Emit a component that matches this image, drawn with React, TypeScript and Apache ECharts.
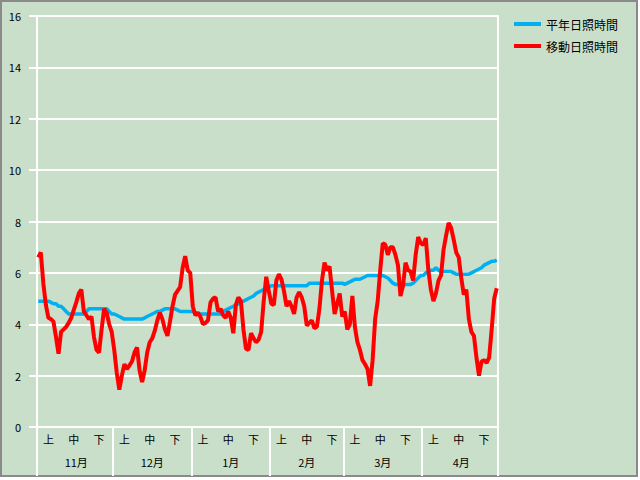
import React, { useEffect, useRef } from 'react';
import * as echarts from 'echarts';

// Month groups (Nov – Apr, leap-year February)
const months = ['11月', '12月', '1月', '2月', '3月', '4月'];
const monthDays = [30, 31, 31, 29, 31, 30];
// Ten-day periods and the day-of-month at which their label sits
const periods = ['上', '中', '下'];
const periodLabelDay = [5, 15, 25];

const seriesNames = ['平年日照時間', '移動日照時間'];

// 平年日照時間 (normal daily sunshine hours), one value per day
const normalNov = [4.9, 4.9, 4.9, 4.9, 4.9, 4.85, 4.8, 4.8, 4.7, 4.7, 4.6, 4.5, 4.4, 4.4, 4.4, 4.4, 4.4, 4.4, 4.4, 4.5, 4.6, 4.6, 4.6, 4.6, 4.6, 4.6, 4.6, 4.6, 4.5, 4.4];
const normalDec = [4.4, 4.35, 4.3, 4.25, 4.2, 4.2, 4.2, 4.2, 4.2, 4.2, 4.2, 4.2, 4.25, 4.3, 4.35, 4.4, 4.45, 4.5, 4.5, 4.55, 4.6, 4.6, 4.6, 4.6, 4.6, 4.55, 4.5, 4.5, 4.5, 4.5, 4.5];
const normalJan = [4.5, 4.45, 4.4, 4.4, 4.4, 4.4, 4.4, 4.4, 4.4, 4.4, 4.4, 4.4, 4.5, 4.55, 4.6, 4.65, 4.7, 4.75, 4.8, 4.85, 4.9, 4.95, 5.0, 5.05, 5.1, 5.2, 5.25, 5.3, 5.35, 5.4, 5.45];
const normalFeb = [5.5, 5.5, 5.5, 5.5, 5.5, 5.5, 5.5, 5.5, 5.5, 5.5, 5.5, 5.5, 5.5, 5.5, 5.5, 5.6, 5.6, 5.6, 5.6, 5.6, 5.6, 5.6, 5.6, 5.6, 5.6, 5.6, 5.6, 5.6, 5.6];
const normalMar = [5.55, 5.6, 5.65, 5.7, 5.75, 5.75, 5.75, 5.8, 5.85, 5.9, 5.9, 5.9, 5.9, 5.9, 5.9, 5.9, 5.85, 5.8, 5.7, 5.6, 5.55, 5.55, 5.55, 5.55, 5.55, 5.55, 5.55, 5.6, 5.7, 5.8, 5.9];
const normalApr = [5.9, 6.0, 6.05, 6.1, 6.1, 6.2, 6.1, 6.05, 6.05, 6.05, 6.05, 6.05, 6.0, 5.95, 5.95, 5.95, 5.95, 5.95, 5.95, 6.0, 6.05, 6.1, 6.15, 6.2, 6.3, 6.35, 6.4, 6.45, 6.45, 6.5];

// 移動日照時間 (moving-average sunshine hours), one value per day
const movingNov = [6.6, 6.8, 5.6, 4.75, 4.25, 4.2, 4.1, 3.5, 2.85, 3.7, 3.8, 3.9, 4.05, 4.25, 4.55, 4.85, 5.2, 5.35, 4.5, 4.35, 4.2, 4.3, 3.5, 3.0, 2.9, 3.8, 4.6, 4.45, 4.0, 3.7];
const movingDec = [3.0, 2.1, 1.45, 2.0, 2.45, 2.25, 2.4, 2.55, 2.9, 3.1, 2.2, 1.75, 2.2, 2.9, 3.3, 3.45, 3.75, 4.15, 4.45, 4.2, 3.8, 3.55, 4.1, 4.7, 5.15, 5.3, 5.45, 6.2, 6.65, 6.1, 6.0];
const movingJan = [4.7, 4.35, 4.45, 4.3, 4.0, 4.05, 4.15, 4.85, 5.0, 5.05, 4.5, 4.6, 4.35, 4.25, 4.5, 4.25, 3.65, 4.75, 5.05, 4.9, 3.8, 3.05, 3.0, 3.65, 3.45, 3.3, 3.4, 3.7, 4.9, 5.85, 5.3];
const movingFeb = [4.8, 4.75, 5.7, 5.95, 5.75, 5.3, 4.7, 4.9, 4.7, 4.4, 5.05, 5.25, 5.05, 4.7, 3.95, 4.05, 4.15, 3.85, 3.9, 4.6, 5.7, 6.4, 6.1, 6.25, 5.3, 4.4, 4.8, 5.2, 4.3];
const movingMar = [4.5, 3.8, 4.0, 5.1, 3.9, 3.3, 3.0, 2.6, 2.45, 2.25, 1.6, 2.6, 4.2, 4.9, 6.1, 7.15, 7.1, 6.7, 7.0, 7.0, 6.7, 6.3, 5.1, 5.5, 6.4, 6.1, 6.05, 5.7, 6.7, 7.4, 7.15];
const movingApr = [7.1, 7.35, 6.1, 5.35, 4.9, 5.2, 5.7, 5.9, 6.9, 7.45, 7.95, 7.75, 7.3, 6.8, 6.6, 5.8, 5.15, 5.35, 4.2, 3.7, 3.55, 2.7, 2.0, 2.55, 2.6, 2.5, 2.7, 3.8, 5.0, 5.4];

const normalHours = [...normalNov, ...normalDec, ...normalJan, ...normalFeb, ...normalMar, ...normalApr];
const movingHours = [...movingNov, ...movingDec, ...movingJan, ...movingFeb, ...movingMar, ...movingApr];

export default function App() {
  const ref = useRef<HTMLDivElement>(null);

  useEffect(() => {
    document.body.style.margin = '0';
    if (!ref.current) return;
    const chart = echarts.init(ref.current, undefined, { renderer: 'svg' });

    const categories: string[] = [];
    const monthStart: Record<string, boolean> = {};
    const periodLabel: Record<string, string> = {};
    const monthLabel: Record<string, string> = {};
    months.forEach((m, mi) => {
      const n = monthDays[mi];
      for (let d = 1; d <= n; d++) {
        const key = `${m}${d}日`;
        categories.push(key);
        if (d === 1) monthStart[key] = true;
        const pi = periodLabelDay.indexOf(d);
        if (pi >= 0) periodLabel[key] = periods[pi];
        if (d === Math.floor(n / 2) + 1) monthLabel[key] = m;
      }
    });

    const font = "'Noto Sans CJK JP', sans-serif";
    const white = '#ffffff';

    chart.setOption({
      animation: false,
      backgroundColor: 'transparent',
      textStyle: { fontFamily: font },
      legend: {
        data: seriesNames,
        orient: 'vertical',
        left: 514,
        top: 18,
        padding: 0,
        icon: 'rect',
        itemWidth: 27,
        itemHeight: 4,
        itemGap: 10,
        textStyle: { fontSize: 12, color: '#000', fontFamily: font },
      },
      grid: {
        left: 37,
        right: 142,
        top: 16,
        bottom: 53,
        show: true,
        borderColor: white,
        borderWidth: 2,
        backgroundColor: 'transparent',
      },
      xAxis: [
        {
          type: 'category',
          data: categories,
          boundaryGap: true,
          axisLine: { show: true, lineStyle: { color: white, width: 2 } },
          axisTick: {
            show: true,
            interval: (i: number, v: string) => !!monthStart[v],
            length: 49,
            lineStyle: { color: white, width: 2 },
          },
          axisLabel: {
            interval: (i: number, v: string) => !!periodLabel[v],
            formatter: (v: string) => periodLabel[v] || '',
            color: '#000',
            fontSize: 11,
            margin: 6,
            fontFamily: font,
          },
          splitLine: { show: false },
        },
        {
          type: 'category',
          data: categories,
          boundaryGap: true,
          position: 'bottom',
          offset: 23,
          axisLine: { show: false },
          axisTick: { show: false },
          axisLabel: {
            interval: (i: number, v: string) => !!monthLabel[v],
            formatter: (v: string) => monthLabel[v] || '',
            color: '#000',
            fontSize: 11,
            margin: 6,
            fontFamily: font,
          },
          splitLine: { show: false },
        },
      ],
      yAxis: {
        type: 'value',
        min: 0,
        max: 16,
        interval: 2,
        axisLine: { show: true, lineStyle: { color: white, width: 2 } },
        axisTick: { show: true, length: 8, lineStyle: { color: white, width: 2 } },
        axisLabel: { color: '#000', fontSize: 11, margin: 16, fontFamily: font },
        splitLine: { show: true, lineStyle: { color: white, width: 2 } },
      },
      series: [
        {
          name: seriesNames[0],
          type: 'line',
          data: normalHours,
          showSymbol: false,
          symbol: 'none',
          itemStyle: { color: '#00B0F0' },
          lineStyle: { color: '#00B0F0', width: 3.5 },
        },
        {
          name: seriesNames[1],
          type: 'line',
          data: movingHours,
          showSymbol: false,
          symbol: 'none',
          itemStyle: { color: '#FF0000' },
          lineStyle: { color: '#FF0000', width: 4 },
        },
      ],
    });

    return () => chart.dispose();
  }, []);

  return (
    <div style={{ position: 'relative', width: 640, height: 480, background: '#ffffff', overflow: 'hidden' }}>
      <div
        style={{
          position: 'absolute',
          left: 0,
          top: 0,
          width: 638,
          height: 477,
          boxSizing: 'border-box',
          border: '2px solid #8a8a8a',
          background: '#C9DFC9',
        }}
      />
      <div ref={ref} style={{ position: 'absolute', left: 0, top: 0, width: 640, height: 480 }} />
    </div>
  );
}
